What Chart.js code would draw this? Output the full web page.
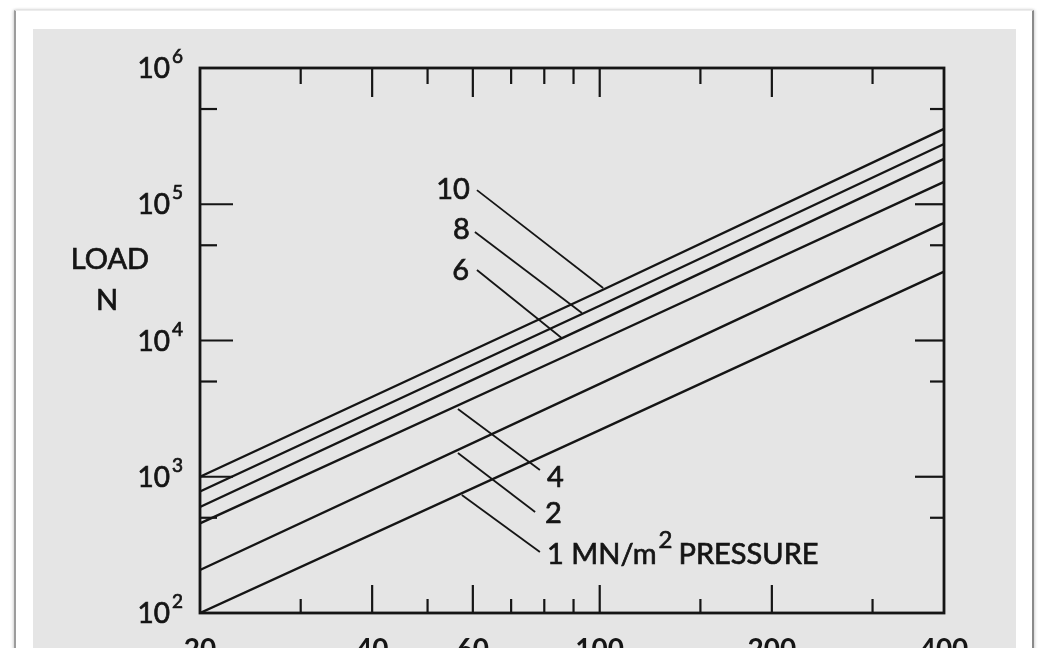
<!DOCTYPE html>
<html>
<head>
<meta charset="utf-8">
<script src="https://cdn.jsdelivr.net/npm/chart.js@4.4.1/dist/chart.umd.min.js"></script>
<style>
  html, body { margin: 0; padding: 0; background: #fff; overflow: hidden; }
  #frame {
    position: absolute; left: 14px; top: 10px; width: 1016px; height: 700px;
    border-left: 2px solid #9c9c9c; border-right: 2px solid #8a8a8a; border-top: 1px solid #ececec;
    box-shadow: -1px 0 3px rgba(0,0,0,0.15), 1px 0 3px rgba(0,0,0,0.15);
  }
  #panel { position: absolute; left: 33px; top: 29px; width: 983px; height: 700px; background: #e5e5e5; }
  #chart { position: absolute; left: 0; top: 0; }
</style>
</head>
<body>
<div id="frame"></div>
<div id="panel"></div>
<canvas id="chart" width="1040" height="648"></canvas>
<script>
const ink = "#151515";
const font = "Lato";

// diameter (x) and load in N (y), one series per pressure in MN/m2
const diameters = [20, 100, 400];
const pressures = ["10", "8", "6", "4", "2", "1"];
const load10 = [1000, 23000, 357000];
const load8 = [780, 18000, 277000];
const load6 = [600, 14000, 215000];
const load4 = [455, 10000, 146000];
const load2 = [207, 4800, 73000];
const load1 = [100, 2200, 32000];
const loads = [load10, load8, load6, load4, load2, load1];

const xTickValues = [20, 40, 60, 100, 200, 400];
const xMinorValues = [30, 50, 70, 80, 90, 150, 300];
const yTickValues = [1e2, 1e3, 1e4, 1e5, 1e6];
const yMinorValues = [5e2, 5e3, 5e4, 5e5];

// curve labels with leader lines, placed in data space
const notes = [
  { text: "10", align: "right", at: [59.3, 1.27e5], from: [61.0, 1.27e5], to: [101.4, 2.43e4] },
  { text: "8", align: "right", at: [59.3, 6.47e4], from: [60.5, 6.25e4], to: [93.1, 1.59e4] },
  { text: "6", align: "right", at: [59.1, 3.24e4], from: [61.0, 3.29e4], to: [85.9, 1.04e4] },
  { text: "4", align: "left", at: [80.9, 980], from: [56.5, 3140], to: [78.6, 1121] },
  { text: "2", align: "left", at: [80.2, 533], from: [56.5, 1493], to: [77.1, 551] },
  { text: "1 MN/m", align: "left", at: [80.9, 267], from: [57.4, 735], to: [78.6, 280], sup: "2", tail: "PRESSURE" },
];

const inkPlugin = {
  id: "ink",
  afterDraw(chart) {
    const { ctx, chartArea: a, scales: { x, y } } = chart;
    ctx.save();
    ctx.strokeStyle = ink;
    ctx.fillStyle = ink;
    ctx.lineCap = "butt";

    const seg = (x1, y1, x2, y2) => {
      ctx.beginPath();
      ctx.moveTo(x1, y1);
      ctx.lineTo(x2, y2);
      ctx.stroke();
    };
    // scanned type looks heavier than Lato regular, so add a thin outline
    const text = (s, tx, ty) => {
      ctx.fillText(s, tx, ty);
      ctx.lineWidth = 0.7;
      ctx.strokeText(s, tx, ty);
    };

    // frame
    ctx.lineWidth = 2.8;
    ctx.strokeRect(a.left, a.top, a.right - a.left, a.bottom - a.top);

    // inward ticks
    ctx.lineWidth = 2.2;
    xTickValues.slice(1, -1).forEach(v => {
      const px = x.getPixelForValue(v);
      seg(px, a.bottom, px, a.bottom - 28);
      seg(px, a.top, px, a.top + 29);
    });
    xMinorValues.forEach(v => {
      const px = x.getPixelForValue(v);
      seg(px, a.bottom, px, a.bottom - 14);
      seg(px, a.top, px, a.top + 16);
    });
    yTickValues.slice(1, -1).forEach(v => {
      const py = y.getPixelForValue(v);
      seg(a.left, py, a.left + 33, py);
      seg(a.right, py, a.right - 29, py);
    });
    yMinorValues.forEach(v => {
      const py = y.getPixelForValue(v);
      seg(a.left, py, a.left + 17, py);
      seg(a.right, py, a.right - 14, py);
    });

    // y tick labels 10^n
    yTickValues.forEach(v => {
      const py = y.getPixelForValue(v);
      ctx.textBaseline = "middle";
      ctx.textAlign = "right";
      ctx.font = "28px " + font;
      text("10", a.left - 30, py + 1);
      ctx.textAlign = "left";
      ctx.font = "19px " + font;
      text(String(Math.round(Math.log10(v))), a.left - 28, py - 11);
    });

    // axis title
    ctx.textAlign = "center";
    ctx.textBaseline = "middle";
    ctx.font = "29px " + font;
    text("LOAD", a.left - 90, 260);
    text("N", a.left - 93, 301);

    // curve labels
    notes.forEach(n => {
      ctx.lineWidth = 1.8;
      seg(x.getPixelForValue(n.from[0]), y.getPixelForValue(n.from[1]),
          x.getPixelForValue(n.to[0]), y.getPixelForValue(n.to[1]));
      const tx = x.getPixelForValue(n.at[0]);
      const ty = y.getPixelForValue(n.at[1]);
      ctx.font = "29px " + font;
      ctx.textAlign = n.align;
      ctx.textBaseline = "middle";
      text(n.text, tx, ty);
      if (n.sup) {
        const w = ctx.measureText(n.text).width;
        ctx.textAlign = "left";
        ctx.font = "24px " + font;
        text(n.sup, tx + w + 2, ty - 15);
        ctx.font = "29px " + font;
        text(n.tail, tx + w + 22, ty);
      }
    });
    ctx.restore();
  }
};

new Chart(document.getElementById("chart"), {
  type: "line",
  data: {
    datasets: loads.map((vals, i) => ({
      label: pressures[i] + " MN/m²",
      data: diameters.map((d, j) => ({ x: d, y: vals[j] })),
      borderColor: ink,
      borderWidth: 2.4,
      pointRadius: 0,
      tension: 0,
      fill: false,
    })),
  },
  options: {
    responsive: false,
    animation: false,
    layout: { padding: { top: 68, right: 96, left: 0, bottom: 0 } },
    plugins: { legend: { display: false }, tooltip: { enabled: false } },
    scales: {
      x: {
        type: "logarithmic",
        min: 20,
        max: 400,
        grid: { display: false, drawTicks: false },
        border: { display: false },
        ticks: {
          color: ink,
          font: { family: font, size: 28, weight: "bold" },
          padding: 20,
          maxRotation: 0,
          autoSkip: false,
          callback: v => String(v),
        },
        afterBuildTicks: s => { s.ticks = xTickValues.map(v => ({ value: v })); },
        afterFit: s => { s.height = 35; },
      },
      y: {
        type: "logarithmic",
        min: 100,
        max: 1000000,
        grid: { display: false, drawTicks: false },
        border: { display: false },
        ticks: { display: false },
        afterBuildTicks: s => { s.ticks = yTickValues.map(v => ({ value: v })); },
        afterFit: s => { s.width = 200; },
      },
    },
  },
  plugins: [inkPlugin],
});
</script>
</body>
</html>
